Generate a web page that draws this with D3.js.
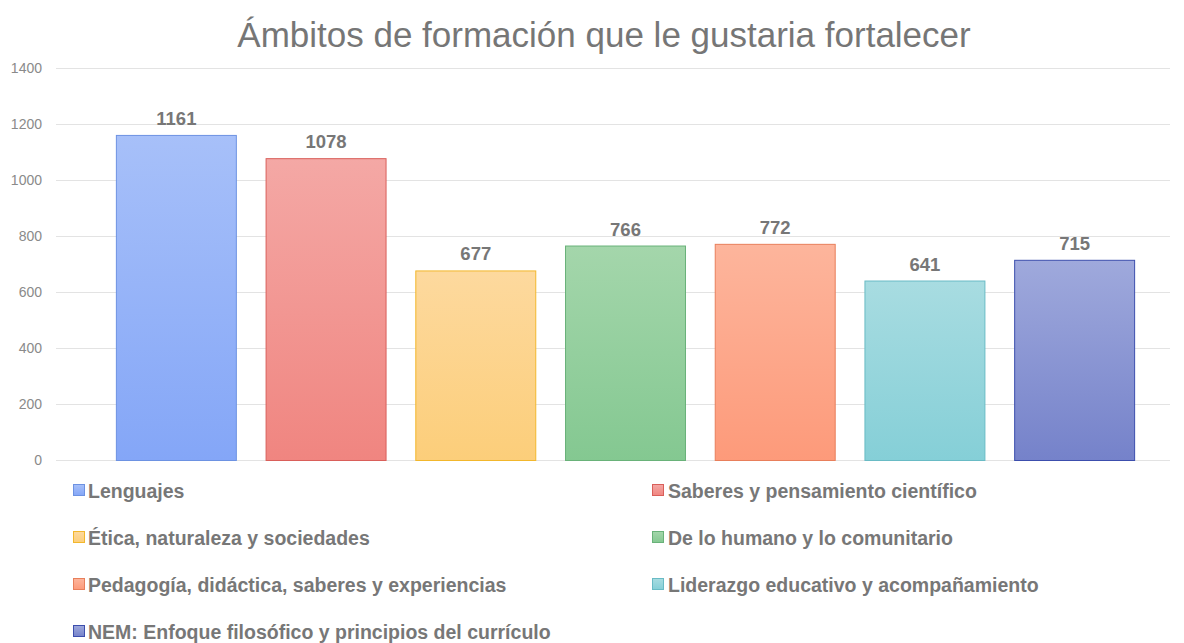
<!DOCTYPE html>
<html lang="es">
<head>
<meta charset="utf-8">
<style>
  body { margin: 0; background: #fff; }
  svg { display: block; font-family: "Liberation Sans", Arial, sans-serif; }
  .grid line { stroke: #e3e3e3; stroke-width: 1px; }
  .tick-label { fill: #8a8a8a; font-size: 14px; }
  .value { fill: #777; font-size: 18.5px; font-weight: bold; }
  .legend text { fill: #777; font-size: 19.5px; font-weight: bold; }
</style>
</head>
<body>
<svg width="1184" height="643"></svg>
<script src="https://d3js.org/d3.v7.min.js"></script>
<script>
var categories = [
  "Lenguajes",
  "Saberes y pensamiento científico",
  "Ética, naturaleza y sociedades",
  "De lo humano y lo comunitario",
  "Pedagogía, didáctica, saberes y experiencias",
  "Liderazgo educativo y acompañamiento",
  "NEM: Enfoque filosófico y principios del currículo"
];
var values = [1161, 1078, 677, 766, 772, 641, 715];
var yTicks = [0, 200, 400, 600, 800, 1000, 1200, 1400];

// top colour, bottom colour, border
var topColors = ["#a7c0f9", "#f4a8a5", "#fdd99e", "#a4d6ab", "#fdb59c", "#a8dce1", "#9fa9dc"];
var bottomColors = ["#84a6f7", "#f08580", "#fcce7a", "#84c891", "#fd9a7a", "#85cfd7", "#7582ca"];
var borderColors = ["#6d92e2", "#d95f5a", "#f2b72c", "#69b279", "#e87f5b", "#69bbc5", "#3c4ead"];

var svg = d3.select("svg"),
    width = +svg.attr("width");

var x = d3.scaleBand()
    .domain(categories)
    .range([101.5, 1149.5])
    .paddingInner(0.192)
    .paddingOuter(0.096);

var y = d3.scaleLinear()
    .domain([0, 1400])
    .range([460, 68]);

var defs = svg.append("defs");
categories.forEach(function (c, i) {
  var g = defs.append("linearGradient")
      .attr("id", "grad" + i)
      .attr("x1", 0).attr("y1", 0).attr("x2", 0).attr("y2", 1);
  g.append("stop").attr("offset", "0%").attr("stop-color", topColors[i]);
  g.append("stop").attr("offset", "100%").attr("stop-color", bottomColors[i]);
});

// title
svg.append("text")
    .attr("x", 604)
    .attr("y", 47)
    .attr("text-anchor", "middle")
    .attr("fill", "#767676")
    .style("font-size", "35px")
    .text("Ámbitos de formación que le gustaria fortalecer");

// grid
svg.append("g")
    .attr("class", "grid")
    .selectAll("line")
    .data(yTicks)
    .enter().append("line")
    .attr("x1", 56)
    .attr("x2", 1170)
    .attr("y1", function (d) { return Math.round(y(d)) + 0.5; })
    .attr("y2", function (d) { return Math.round(y(d)) + 0.5; });

svg.append("g")
    .selectAll("text")
    .data(yTicks)
    .enter().append("text")
    .attr("class", "tick-label")
    .attr("x", 42)
    .attr("y", function (d) { return y(d); })
    .attr("dy", "0.35em")
    .attr("text-anchor", "end")
    .text(function (d) { return d; });

// bars
svg.append("g")
    .selectAll("rect")
    .data(values)
    .enter().append("rect")
    .attr("x", function (d, i) { return x(categories[i]) + 0.5; })
    .attr("y", function (d) { return y(d) + 0.5; })
    .attr("width", x.bandwidth() - 1)
    .attr("height", function (d) { return y(0) - y(d); })
    .attr("fill", function (d, i) { return "url(#grad" + i + ")"; })
    .attr("stroke", function (d, i) { return borderColors[i]; })
    .attr("stroke-width", 1);

svg.append("g")
    .selectAll("text")
    .data(values)
    .enter().append("text")
    .attr("class", "value")
    .attr("x", function (d, i) { return x(categories[i]) + x.bandwidth() / 2; })
    .attr("y", function (d) { return y(d) - 10; })
    .attr("text-anchor", "middle")
    .text(function (d) { return d; });

// legend, two columns
var legend = svg.append("g").attr("class", "legend")
    .selectAll("g")
    .data(categories)
    .enter().append("g")
    .attr("transform", function (d, i) {
      var col = i % 2, row = Math.floor(i / 2);
      return "translate(" + (col ? 652 : 73) + "," + (490 + row * 47) + ")";
    });

legend.append("rect")
    .attr("x", 0.5)
    .attr("y", -5.5)
    .attr("width", 11)
    .attr("height", 11)
    .attr("fill", function (d, i) { return "url(#grad" + i + ")"; })
    .attr("stroke", function (d, i) { return borderColors[i]; });

legend.append("text")
    .attr("x", function (d, i) { return i % 2 ? 16 : 15; })
    .attr("y", 0)
    .attr("dy", "0.4em")
    .text(function (d) { return d; });
</script>
</body>
</html>
